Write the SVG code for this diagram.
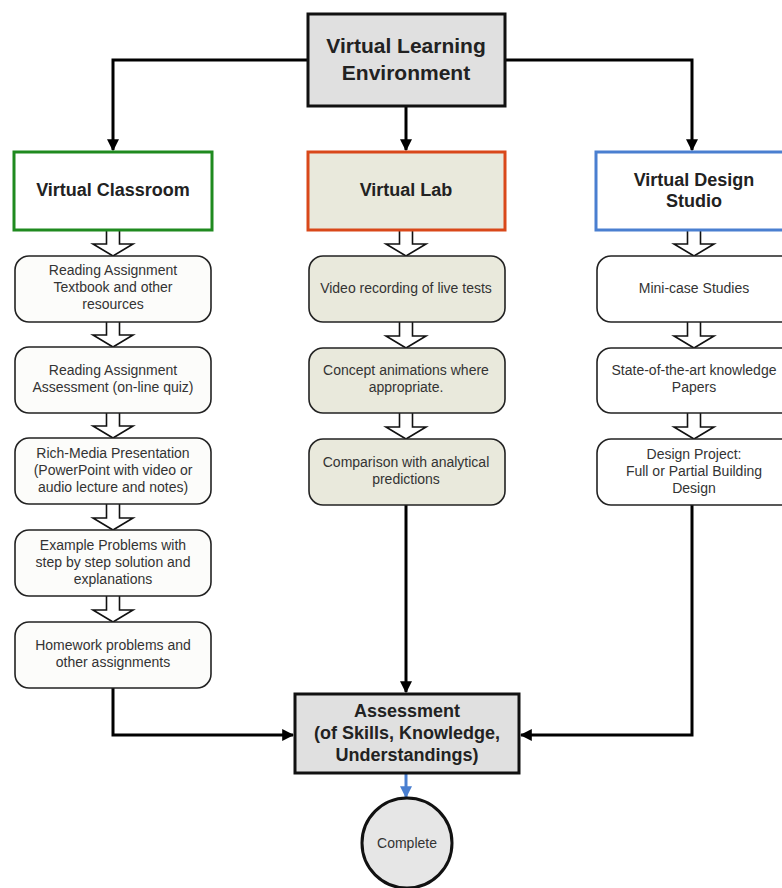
<svg xmlns="http://www.w3.org/2000/svg" width="782" height="888" viewBox="0 0 782 888">
<style>
.t{font-family:"Liberation Sans",Arial,sans-serif;font-weight:bold;fill:#222;text-anchor:middle}
.s{font-family:"Liberation Sans",Arial,sans-serif;font-size:14px;fill:#333;text-anchor:middle}
.rb{stroke:#222;stroke-width:1.6}
.ba{fill:#fff;stroke:#111;stroke-width:1.6;stroke-linejoin:miter}
.c{fill:none;stroke:#000;stroke-width:3}
</style>
<defs>
<marker id="ah" viewBox="0 0 10 10" refX="9" refY="5" markerWidth="4" markerHeight="4" orient="auto" markerUnits="strokeWidth">
<path d="M0,0 L10,5 L0,10 z" fill="#000"/>
</marker>
<marker id="ahb" viewBox="0 0 10 10" refX="9" refY="5" markerWidth="4" markerHeight="4" orient="auto" markerUnits="strokeWidth">
<path d="M0,0 L10,5 L0,10 z" fill="#4a7fd0"/>
</marker>
<path id="blk" d="M-6.5,0 V14 H-20 L0,26 L20,14 H6.5 V0"/>
</defs>

<g id="connectors">
<path class="c" d="M308,60 H113 V150" marker-end="url(#ah)"/>
<path class="c" d="M406,106 V150" marker-end="url(#ah)"/>
<path class="c" d="M505,60 H692 V150" marker-end="url(#ah)"/>
<path class="c" d="M113,688 V735 H293" marker-end="url(#ah)"/>
<path class="c" d="M406,505 V692" marker-end="url(#ah)"/>
<path class="c" d="M692,505 V735 H521" marker-end="url(#ah)"/>
<path d="M406,774 V797" fill="none" stroke="#4a7fd0" stroke-width="3" marker-end="url(#ahb)"/>
<g class="ba">
<use href="#blk" x="113" y="230"/>
<use href="#blk" x="113" y="321"/>
<use href="#blk" x="113" y="412"/>
<use href="#blk" x="113" y="504"/>
<use href="#blk" x="113" y="596"/>
<use href="#blk" x="406" y="230"/>
<use href="#blk" x="406" y="322"/>
<use href="#blk" x="406" y="413"/>
<use href="#blk" x="694" y="230"/>
<use href="#blk" x="694" y="322"/>
<use href="#blk" x="694" y="413"/>
</g>
</g>

<g id="vle">
<rect x="308" y="14" width="197" height="92" fill="#e0e0e0" stroke="#111" stroke-width="3"/>
<text class="t" x="406" y="53" font-size="21">Virtual Learning</text>
<text class="t" x="406" y="80" font-size="21">Environment</text>
</g>

<g id="classroom">
<rect x="14" y="152" width="198" height="78" fill="#fff" stroke="#1f8a1f" stroke-width="3"/>
<text class="t" x="113" y="196" font-size="18">Virtual Classroom</text>
</g>
<g id="lab">
<rect x="308" y="152" width="197" height="78" fill="#e9e9dc" stroke="#d9481a" stroke-width="3"/>
<text class="t" x="406" y="196" font-size="18">Virtual Lab</text>
</g>
<g id="studio">
<rect x="596" y="152" width="200" height="78" fill="#fff" stroke="#4a7fd0" stroke-width="3"/>
<text class="t" x="694" y="186" font-size="18">Virtual Design</text>
<text class="t" x="694" y="207" font-size="18">Studio</text>
</g>

<g id="c1">
<rect class="rb" x="15" y="256" width="196" height="66" rx="14" fill="#fcfcfa"/>
<text class="s" x="113" y="275">Reading Assignment</text>
<text class="s" x="113" y="292">Textbook and other</text>
<text class="s" x="113" y="309">resources</text>
</g>
<g id="c2">
<rect class="rb" x="15" y="347" width="196" height="66" rx="14" fill="#fcfcfa"/>
<text class="s" x="113" y="375">Reading Assignment</text>
<text class="s" x="113" y="392">Assessment (on-line quiz)</text>
</g>
<g id="c3">
<rect class="rb" x="15" y="438" width="196" height="66" rx="14" fill="#fcfcfa"/>
<text class="s" x="113" y="458">Rich-Media Presentation</text>
<text class="s" x="113" y="475">(PowerPoint with video or</text>
<text class="s" x="113" y="492">audio lecture and notes)</text>
</g>
<g id="c4">
<rect class="rb" x="15" y="530" width="196" height="66" rx="14" fill="#fcfcfa"/>
<text class="s" x="113" y="550">Example Problems with</text>
<text class="s" x="113" y="567">step by step solution and</text>
<text class="s" x="113" y="584">explanations</text>
</g>
<g id="c5">
<rect class="rb" x="15" y="622" width="196" height="66" rx="14" fill="#fcfcfa"/>
<text class="s" x="113" y="650">Homework problems and</text>
<text class="s" x="113" y="667">other assignments</text>
</g>

<g id="l1">
<rect class="rb" x="309" y="256" width="196" height="66" rx="14" fill="#e9e9dc"/>
<text class="s" x="406" y="293">Video recording of live tests</text>
</g>
<g id="l2">
<rect class="rb" x="309" y="348" width="196" height="65" rx="14" fill="#e9e9dc"/>
<text class="s" x="406" y="375">Concept animations where</text>
<text class="s" x="406" y="392">appropriate.</text>
</g>
<g id="l3">
<rect class="rb" x="309" y="439" width="196" height="66" rx="14" fill="#e9e9dc"/>
<text class="s" x="406" y="467">Comparison with analytical</text>
<text class="s" x="406" y="484">predictions</text>
</g>

<g id="d1">
<rect class="rb" x="597" y="256" width="198" height="66" rx="14" fill="#fff"/>
<text class="s" x="694" y="293">Mini-case Studies</text>
</g>
<g id="d2">
<rect class="rb" x="597" y="348" width="198" height="65" rx="14" fill="#fff"/>
<text class="s" x="694" y="375">State-of-the-art knowledge</text>
<text class="s" x="694" y="392">Papers</text>
</g>
<g id="d3">
<rect class="rb" x="597" y="439" width="198" height="66" rx="14" fill="#fff"/>
<text class="s" x="694" y="459">Design Project:</text>
<text class="s" x="694" y="476">Full or Partial Building</text>
<text class="s" x="694" y="493">Design</text>
</g>

<g id="assessment">
<rect x="295" y="694" width="224" height="79" fill="#e0e0e0" stroke="#111" stroke-width="3"/>
<text class="t" x="407" y="717" font-size="18">Assessment</text>
<text class="t" x="407" y="739" font-size="18">(of Skills, Knowledge,</text>
<text class="t" x="407" y="761" font-size="18">Understandings)</text>
</g>
<g id="complete">
<circle cx="407" cy="843" r="45" fill="#e6e6e6" stroke="#111" stroke-width="3"/>
<text class="s" x="407" y="848">Complete</text>
</g>
</svg>
